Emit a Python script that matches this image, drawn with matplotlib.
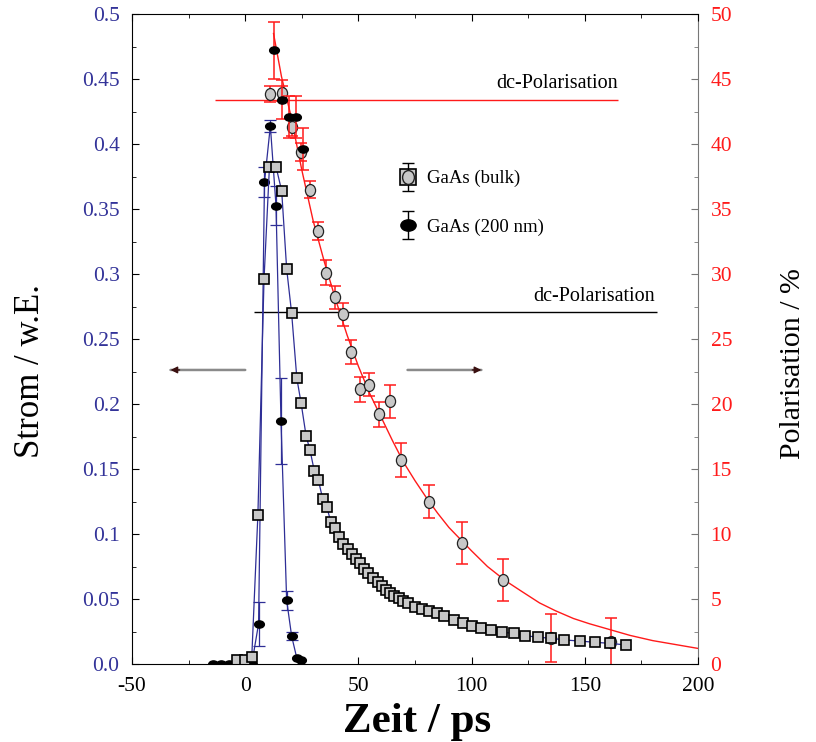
import numpy as np
import matplotlib.pyplot as plt
from matplotlib.path import Path
from matplotlib.transforms import Affine2D
from matplotlib.lines import Line2D
from matplotlib.legend_handler import HandlerTuple, HandlerErrorbar
from matplotlib.ticker import MultipleLocator

plt.rcParams['font.family'] = ['Liberation Serif', 'DejaVu Serif']

# GaAs (bulk) current, squares, left axis
bulk_t = [-3.7, -0.3, 2.9, 5.6, 8.3, 10.7, 13.6, 16.1, 18.3, 20.5, 22.8, 24.7, 26.9, 28.6,
          30.5, 32.3, 34.2, 36.0, 37.9, 39.6, 41.4, 43.3, 45.2, 47.0, 48.9, 50.7, 52.6, 54.4,
          56.6, 58.5, 60.2, 62.1, 63.9, 65.8, 67.9, 69.8, 71.7, 74.9, 77.9, 81.1, 84.5, 88.0,
          92.0, 96.0, 100.1, 104.3, 108.7, 113.6, 118.7, 123.8, 129.3, 135.2, 141.0, 147.7,
          154.3, 161.3, 168.3]
bulk_i = [0.003, 0.003, 0.0056, 0.115, 0.296, 0.3825, 0.3825, 0.364, 0.304, 0.2698, 0.2198,
          0.2005, 0.1754, 0.1646, 0.1487, 0.1415, 0.1272, 0.1208, 0.109, 0.1044, 0.0974, 0.0923,
          0.0882, 0.0844, 0.0805, 0.0774, 0.0731, 0.0697, 0.0664, 0.0633, 0.060, 0.0569, 0.0544,
          0.0523, 0.0505, 0.0485, 0.0467, 0.0436, 0.042, 0.041, 0.0392, 0.0369, 0.0338, 0.0318,
          0.0292, 0.028, 0.0262, 0.0244, 0.0236, 0.0218, 0.0206, 0.0198, 0.0185, 0.0177, 0.0167,
          0.0159, 0.0146]

# GaAs (200 nm) current, black dots, left axis
nano_t = [-14.3, -10.7, -7.0, -3.7, -0.3, 2.9, 5.9, 8.5, 11.1, 13.6, 15.8, 18.3, 20.5, 22.8, 24.7]
nano_i = [0, 0, 0, 0, 0, 0, 0.031, 0.3705, 0.414, 0.3525, 0.187, 0.049, 0.0215, 0.0044, 0.003]
nano_ierr = [0, 0, 0, 0, 0, 0, 0.017, 0.0115, 0.0045, 0.015, 0.033, 0.0073, 0.003, 0, 0]

# GaAs (bulk) polarisation, grey circles, right axis
bulk_pt = [11.1, 16.1, 20.5, 24.6, 28.6, 32.3, 35.9, 39.6, 43.2, 46.9, 50.7, 54.8, 59.2, 64.1,
           69.0, 81.1, 95.8, 113.9, 135.2, 161.6]
bulk_p = [43.85, 43.9, 41.3, 39.4, 36.5, 33.3, 30.1, 28.2, 26.9, 24.0, 21.15, 21.5, 19.2, 20.2,
          15.7, 12.5, 9.33, 6.46, 2.0, 1.7]
bulk_perr = [0.6, 0.6, 0.65, 0.7, 0.65, 0.7, 0.95, 0.9, 0.9, 0.92, 0.96, 0.92, 0.96, 1.28,
             1.28, 1.28, 1.6, 1.6, 1.85, 1.86]

# GaAs (200 nm) polarisation, black dots, right axis
nano_pt = [12.5, 16.1, 19.4, 22.6, 25.7]
nano_p = [47.2, 43.4, 42.1, 42.1, 39.6]
nano_perr = [2.2, 1.5, 1.6, 1.6, 1.6]

# decay fit curve
fit_t = [12.5, 16, 20, 25, 30, 35, 40, 45, 50, 55, 60, 65, 70, 75, 80, 85, 90, 95, 100, 107,
         115, 122, 130, 137, 145, 152, 160, 170, 180, 190, 200]
fit_p = [48.5, 45.2, 42.3, 38.0, 34.1, 30.9, 28.0, 25.3, 22.9, 20.8, 19.0, 17.2, 15.5, 14.1,
         12.8, 11.6, 10.5, 9.6, 8.7, 7.5, 6.4, 5.6, 4.7, 4.1, 3.5, 3.1, 2.7, 2.2, 1.8, 1.5, 1.2]

# dc polarisation levels (t start, t end, value)
dc_red = (-13.3, 164.7, 43.4)
dc_black = (3.7, 181.8, 27.05)

x_ticks = [-50, 0, 50, 100, 150, 200]
x_labels = ['-50', '0', '50', '100', '150', '200']
i_ticks = [0, 0.05, 0.1, 0.15, 0.2, 0.25, 0.3, 0.35, 0.4, 0.45, 0.5]
i_labels = ['0.0', '0.05', '0.1', '0.15', '0.2', '0.25', '0.3', '0.35', '0.4', '0.45', '0.5']
p_ticks = [0, 5, 10, 15, 20, 25, 30, 35, 40, 45, 50]

blue = '#2e2e96'
red = '#ff1a1a'
grey = '#c8c8c8'

def ellipse(sx, sy):
    return Path.unit_circle().transformed(Affine2D().scale(sx, sy))

grey_dot = ellipse(0.85, 1.0)
black_dot = ellipse(1.0, 0.74)

fig = plt.figure(figsize=(8.16, 7.42), dpi=100)
ax = fig.add_axes([0.1618, 0.1051, 0.6936, 0.876])
ax2 = ax.twinx()
ax.set_zorder(ax2.get_zorder() + 1)
ax.patch.set_visible(False)

# polarisation (right axis)
ax2.plot(fit_t, fit_p, color=red, lw=1.0)
ax2.hlines(dc_red[2], dc_red[0], dc_red[1], color=red, lw=1.0)
ax2.hlines(dc_black[2], dc_black[0], dc_black[1], color='k', lw=1.0)
ax2.text(dc_red[1], dc_red[2] + 0.5, 'dc-Polarisation', ha='right', va='bottom', fontsize=14.5)
ax2.text(dc_black[1] - 1, dc_black[2] + 0.5, 'dc-Polarisation', ha='right', va='bottom', fontsize=14.5)
ax2.errorbar(bulk_pt, bulk_p, yerr=bulk_perr, fmt='none', ecolor=red, elinewidth=1.1,
             capsize=4, capthick=1.1)
ax2.plot(bulk_pt, bulk_p, ls='none', marker=grey_dot, ms=8.6, mfc=grey, mec='#222222', mew=0.9)
ax2.errorbar(nano_pt, nano_p, yerr=nano_perr, fmt='none', ecolor=red, elinewidth=1.1,
             capsize=4, capthick=1.1)
ax2.plot(nano_pt, nano_p, ls='none', marker=black_dot, ms=7.0, mfc='k', mec='k')

# current (left axis)
nt = np.array(nano_t)
ni = np.array(nano_i)
ne = np.array(nano_ierr)
has_err = ne > 0
ax.plot(nt, ni, color=blue, lw=0.9)
ax.errorbar(nt[has_err], ni[has_err], yerr=ne[has_err], fmt='none', ecolor=blue,
            elinewidth=0.9, capsize=4, capthick=0.9)
ax.plot(nt, ni, ls='none', marker=black_dot, ms=7.0, mfc='k', mec='k')
ax.plot(bulk_t, bulk_i, color=blue, lw=0.9, marker='s', ms=7.6, mfc=grey, mec='k', mew=1.2)

# arrows pointing to the axes
arrow_y = 0.2262
ax.annotate('', xy=(-33, arrow_y), xytext=(0, arrow_y),
            arrowprops=dict(arrowstyle='-', color='#8a8a8a', lw=1.8, shrinkA=0, shrinkB=0))
ax.annotate('', xy=(-33, arrow_y), xytext=(-29, arrow_y),
            arrowprops=dict(arrowstyle='-|>', color='#3a1010', lw=1, mutation_scale=10,
                            shrinkA=0, shrinkB=0))
ax.annotate('', xy=(104.3, arrow_y), xytext=(71.7, arrow_y),
            arrowprops=dict(arrowstyle='-', color='#8a8a8a', lw=1.8, shrinkA=0, shrinkB=0))
ax.annotate('', xy=(104.3, arrow_y), xytext=(100.3, arrow_y),
            arrowprops=dict(arrowstyle='-|>', color='#3a1010', lw=1, mutation_scale=10,
                            shrinkA=0, shrinkB=0))

# axes
ax.set_xlim(-50, 200)
ax.set_ylim(0, 0.5)
ax2.set_ylim(0, 50)
ax.set_xticks(x_ticks, x_labels)
ax.xaxis.set_minor_locator(MultipleLocator(25))
ax.set_yticks(i_ticks, i_labels)
ax.yaxis.set_minor_locator(MultipleLocator(0.025))
ax2.set_yticks(p_ticks)
ax2.yaxis.set_minor_locator(MultipleLocator(2.5))

ax.tick_params(axis='both', which='both', direction='in', labelsize=15.5, pad=9)
ax.tick_params(axis='both', which='major', length=5)
ax.tick_params(axis='both', which='minor', length=3)
ax.tick_params(axis='x', top=True, which='both')
ax.tick_params(axis='y', labelcolor='#333399')
ax2.tick_params(axis='y', which='both', direction='in', labelsize=15.5, pad=9,
                labelcolor=red, color='#777777')
ax2.tick_params(axis='y', which='major', length=5)
ax2.tick_params(axis='y', which='minor', length=3)

for s in ['left', 'top', 'bottom']:
    ax2.spines[s].set_visible(False)
ax.spines['right'].set_visible(False)
ax2.spines['right'].set_color('#777777')

ax.set_ylabel('Strom / w.E.', fontsize=25)
ax.yaxis.set_label_coords(-0.15, 0.45)
ax2.set_ylabel('Polarisation / %', fontsize=21.5)
ax2.yaxis.set_label_coords(1.145, 0.462)
ax.set_xlabel('Zeit / ps', fontsize=31, fontweight='bold')
ax.xaxis.set_label_coords(0.504, -0.06)

# legend
sq = Line2D([], [], ls='none', marker='s', ms=11, mfc=grey, mec='k', mew=1.2)
eb_bulk = ax.errorbar([np.nan], [np.nan], yerr=[1], ecolor='k', elinewidth=1,
                      capsize=4, marker=grey_dot, ms=10, mfc=grey, mec='#222222', ls='none')
eb_nano = ax.errorbar([np.nan], [np.nan], yerr=[1], ecolor='k', elinewidth=1,
                      capsize=4, marker=black_dot, ms=11, mfc='k', mec='k', ls='none')
ax.legend([(sq, eb_bulk), eb_nano], ['GaAs (bulk)', 'GaAs (200 nm)'],
          handler_map={tuple: HandlerTuple(ndivide=1, pad=0),
                       type(eb_nano): HandlerErrorbar(xerr_size=0.5, yerr_size=0.75)},
          loc='upper left', bbox_to_anchor=(0.468, 0.76), frameon=False, fontsize=13.5,
          handlelength=1.2, handletextpad=0.4, labelspacing=1.65, borderpad=0,
          borderaxespad=0)

fig.savefig('out.png', dpi=100)
